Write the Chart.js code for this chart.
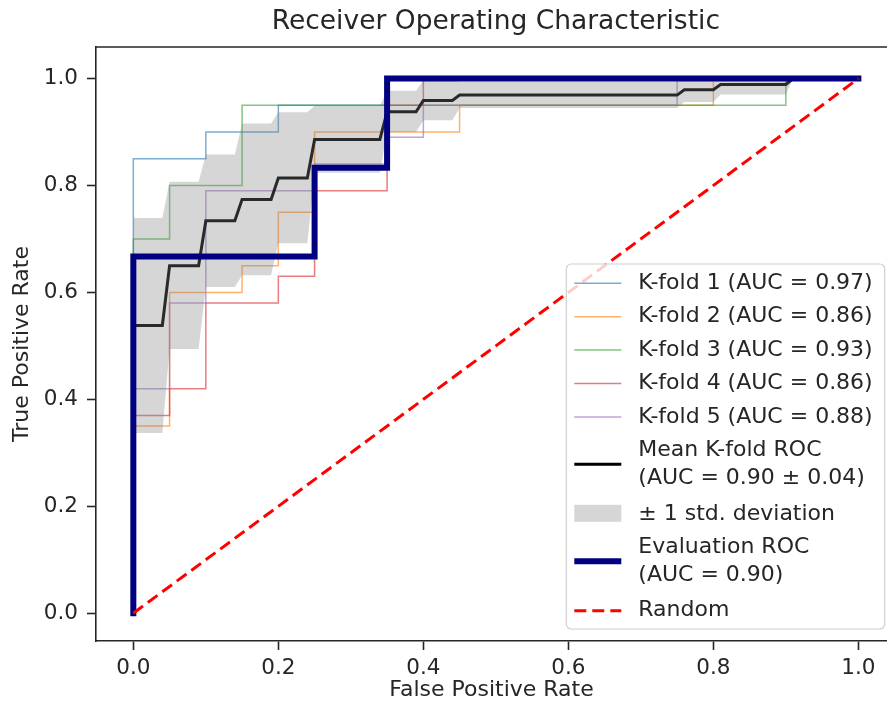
<!DOCTYPE html>
<html>
<head>
<meta charset="utf-8">
<script src="https://cdn.jsdelivr.net/npm/chart.js@4.4.0/dist/chart.umd.min.js"></script>
<style>
  html, body { margin: 0; padding: 0; background: #fff; }
  canvas { display: block; }
</style>
</head>
<body>
<canvas id="rocChart" width="887" height="711"></canvas>
<script>
// curvas ROC de cada fold (pontos do roc_curve)
const fold1Fpr = [0, 0, 0.10, 0.10, 0.20, 0.20, 0.35, 0.35, 1.0];
const fold1Tpr = [0, 0.85, 0.85, 0.90, 0.90, 0.95, 0.95, 1.0, 1.0];
const fold2Fpr = [0, 0, 0.05, 0.05, 0.15, 0.15, 0.20, 0.20, 0.25, 0.25, 0.45, 0.45, 0.80, 0.80, 1.0];
const fold2Tpr = [0, 0.35, 0.35, 0.60, 0.60, 0.65, 0.65, 0.75, 0.75, 0.90, 0.90, 0.95, 0.95, 1.0, 1.0];
const fold3Fpr = [0, 0, 0.05, 0.05, 0.15, 0.15, 0.90, 0.90, 1.0];
const fold3Tpr = [0, 0.70, 0.70, 0.80, 0.80, 0.95, 0.95, 1.0, 1.0];
const fold4Fpr = [0, 0, 0.05, 0.05, 0.10, 0.10, 0.20, 0.20, 0.25, 0.25, 0.35, 0.35, 0.40, 0.40, 1.0];
const fold4Tpr = [0, 0.37, 0.37, 0.42, 0.42, 0.58, 0.58, 0.63, 0.63, 0.79, 0.79, 0.95, 0.95, 1.0, 1.0];
const fold5Fpr = [0, 0, 0.05, 0.05, 0.10, 0.10, 0.25, 0.25, 0.35, 0.35, 0.40, 0.40, 0.75, 0.75, 1.0];
const fold5Tpr = [0, 0.42, 0.42, 0.58, 0.58, 0.79, 0.79, 0.84, 0.84, 0.89, 0.89, 0.95, 0.95, 1.0, 1.0];

// media dos folds e faixa de +-1 desvio padrao
const meanFpr = [0, 0.04, 0.05, 0.09, 0.10, 0.14, 0.15, 0.19, 0.20, 0.24, 0.25, 0.34, 0.35, 0.39, 0.40, 0.44, 0.45, 0.75, 0.76, 0.80, 0.81, 0.90, 0.91, 1.0];
const meanTpr = [0.538, 0.538, 0.65, 0.65, 0.734, 0.734, 0.774, 0.774, 0.814, 0.814, 0.886, 0.886, 0.938, 0.938, 0.959, 0.959, 0.969, 0.969, 0.979, 0.979, 0.989, 0.989, 1.0, 1.0];
const stdUpper = [0.739, 0.739, 0.807, 0.807, 0.858, 0.858, 0.916, 0.916, 0.937, 0.937, 0.949, 0.949, 0.977, 0.977, 0.997, 0.997, 0.994, 0.994, 1.0, 1.0, 1.0, 1.0, 1.0, 1.0];
const stdLower = [0.337, 0.337, 0.494, 0.494, 0.610, 0.610, 0.632, 0.632, 0.692, 0.692, 0.824, 0.824, 0.900, 0.900, 0.922, 0.922, 0.945, 0.945, 0.956, 0.956, 0.970, 0.970, 1.0, 1.0];

// curva de avaliacao e linha aleatoria
const evalFpr = [0, 0, 0.25, 0.25, 0.35, 0.35, 1.0];
const evalTpr = [0, 0.667, 0.667, 0.833, 0.833, 1.0, 1.0];
const randomFpr = [0, 1];
const randomTpr = [0, 1];

const tickValues = [0, 0.2, 0.4, 0.6, 0.8, 1.0];
const foldLabels = ['K-fold 1 (AUC = 0.97)', 'K-fold 2 (AUC = 0.86)', 'K-fold 3 (AUC = 0.93)', 'K-fold 4 (AUC = 0.86)', 'K-fold 5 (AUC = 0.88)'];
const meanLabel = ['Mean K-fold ROC', '(AUC = 0.90 \u00b1 0.04)'];
const stdLabel = ['\u00b1 1 std. deviation'];
const evalLabel = ['Evaluation ROC', '(AUC = 0.90)'];
const randomLabel = ['Random'];
const titleText = 'Receiver Operating Characteristic';
const xTitle = 'False Positive Rate';
const yTitle = 'True Positive Rate';

const fonte = 'DejaVu Sans';
const corTexto = '#262626';
const corEixo = '#262626';
const foldColors = ['rgba(31,119,180,0.6)', 'rgba(255,127,14,0.6)', 'rgba(44,160,44,0.6)', 'rgba(214,39,40,0.6)', 'rgba(148,103,189,0.6)'];
const corFaixa = 'rgba(128,128,128,0.32)';

function serie(fpr, tpr) {
  return fpr.map((x, i) => ({ x: x, y: tpr[i] }));
}

const foldsFpr = [fold1Fpr, fold2Fpr, fold3Fpr, fold4Fpr, fold5Fpr];
const foldsTpr = [fold1Tpr, fold2Tpr, fold3Tpr, fold4Tpr, fold5Tpr];

const datasets = [];
foldsFpr.forEach((fpr, i) => {
  datasets.push({
    label: foldLabels[i],
    data: serie(fpr, foldsTpr[i]),
    borderColor: foldColors[i],
    borderWidth: 1.5,
    order: 9 - i
  });
});
datasets.push({ label: meanLabel.join(' '), data: serie(meanFpr, meanTpr), borderColor: '#000', borderWidth: 3, order: 4 });
datasets.push({ label: stdLabel[0], data: serie(meanFpr, stdUpper), borderWidth: 0, borderColor: 'rgba(0,0,0,0)', backgroundColor: corFaixa, fill: '+1', order: 3 });
datasets.push({ label: 'lower', data: serie(meanFpr, stdLower), borderWidth: 0, borderColor: 'rgba(0,0,0,0)', fill: false, order: 2 });
datasets.push({ label: evalLabel.join(' '), data: serie(evalFpr, evalTpr), borderColor: '#000080', borderWidth: 6, borderCapStyle: 'square', order: 1 });
datasets.push({ label: randomLabel[0], data: serie(randomFpr, randomTpr), borderColor: '#ff0000', borderWidth: 3, borderDash: [12, 6], order: 0 });

datasets.forEach(d => { d.showLine = true; d.pointRadius = 0; d.tension = 0; });

// itens da legenda (desenhada a mao, como no matplotlib)
const itensLegenda = [];
foldLabels.forEach((t, i) => itensLegenda.push({ linhas: [t], tipo: 'linha', cor: foldColors[i], largura: 1.5 }));
itensLegenda.push({ linhas: meanLabel, tipo: 'linha', cor: '#000', largura: 3 });
itensLegenda.push({ linhas: stdLabel, tipo: 'faixa', cor: corFaixa });
itensLegenda.push({ linhas: evalLabel, tipo: 'linha', cor: '#000080', largura: 6 });
itensLegenda.push({ linhas: randomLabel, tipo: 'linha', cor: '#ff0000', largura: 3, tracejado: [12, 6] });

const molduraPlugin = {
  id: 'moldura',
  afterDraw(chart) {
    const { ctx, chartArea, scales } = chart;
    ctx.save();

    // borda de cima
    ctx.strokeStyle = corEixo;
    ctx.lineWidth = 1.6;
    ctx.beginPath();
    ctx.moveTo(chartArea.left, chartArea.top);
    ctx.lineTo(chartArea.right, chartArea.top);
    ctx.stroke();

    // titulo centrado nos eixos
    const eixoDir = scales.x.getPixelForValue(1.0515);
    ctx.fillStyle = corTexto;
    ctx.font = '26.5px "' + fonte + '"';
    ctx.textAlign = 'center';
    ctx.textBaseline = 'middle';
    ctx.fillText(titleText, (chartArea.left + eixoDir) / 2, 22);

    // legenda
    ctx.font = '22px "' + fonte + '"';
    let maxW = 0;
    itensLegenda.forEach(it => it.linhas.forEach(l => { maxW = Math.max(maxW, ctx.measureText(l).width); }));
    const boxW = 72 + maxW + 12;
    const boxH = 365;
    const boxR = eixoDir - 11;
    const boxB = chartArea.bottom - 12;
    const boxL = boxR - boxW;
    const boxT = boxB - boxH;

    ctx.beginPath();
    ctx.roundRect(boxL, boxT, boxW, boxH, 5);
    ctx.fillStyle = 'rgba(255,255,255,0.8)';
    ctx.fill();
    ctx.strokeStyle = '#d0d0d0';
    ctx.lineWidth = 1.2;
    ctx.stroke();

    let y = boxT + 19.3;
    const gapLinha = 28;
    itensLegenda.forEach(it => {
      const n = it.linhas.length;
      const yc = y + (n - 1) * gapLinha / 2;
      if (it.tipo === 'faixa') {
        ctx.fillStyle = it.cor;
        ctx.fillRect(boxL + 8, yc - 9, 47, 17);
      } else {
        ctx.strokeStyle = it.cor;
        ctx.lineWidth = it.largura;
        ctx.setLineDash(it.tracejado || []);
        ctx.beginPath();
        ctx.moveTo(boxL + 8, yc);
        ctx.lineTo(boxL + 55, yc);
        ctx.stroke();
        ctx.setLineDash([]);
      }
      ctx.fillStyle = corTexto;
      ctx.textAlign = 'left';
      ctx.textBaseline = 'middle';
      it.linhas.forEach((l, k) => ctx.fillText(l, boxL + 72, y + k * gapLinha));
      y += (n - 1) * gapLinha + (n > 1 ? 35.5 : 33.4);
    });

    ctx.restore();
  }
};

const fixarTicks = axis => { axis.ticks = tickValues.map(v => ({ value: v })); };

const config = {
  type: 'scatter',
  data: { datasets: datasets },
  options: {
    responsive: false,
    animation: false,
    devicePixelRatio: 1,
    layout: { padding: { top: 47, left: 0, right: 0, bottom: 0 } },
    plugins: {
      legend: { display: false },
      tooltip: { enabled: false },
      title: { display: false }
    },
    scales: {
      x: {
        type: 'linear',
        min: -0.0515,
        max: 1.0395,
        afterBuildTicks: fixarTicks,
        afterFit: scale => { scale.height = 70; },
        grid: { display: true, drawOnChartArea: false, drawTicks: true, tickLength: 9, tickWidth: 1.6, tickColor: corEixo },
        border: { display: true, color: corEixo, width: 1.6 },
        ticks: { callback: v => v.toFixed(1), font: { family: fonte, size: 21.5 }, color: corTexto, padding: 6, maxRotation: 0, autoSkip: false },
        title: { display: true, text: xTitle, font: { family: fonte, size: 22 }, color: corTexto, padding: { top: 0, bottom: 8 } }
      },
      y: {
        type: 'linear',
        min: -0.052,
        max: 1.059,
        afterBuildTicks: fixarTicks,
        afterFit: scale => { scale.width = 96; },
        grid: { display: true, drawOnChartArea: false, drawTicks: true, tickLength: 9, tickWidth: 1.6, tickColor: corEixo },
        border: { display: true, color: corEixo, width: 1.6 },
        ticks: { callback: v => v.toFixed(1), font: { family: fonte, size: 21.5 }, color: corTexto, padding: 9, autoSkip: false },
        title: { display: true, text: yTitle, font: { family: fonte, size: 22 }, color: corTexto, padding: { top: 9, bottom: 0 } }
      }
    }
  },
  plugins: [molduraPlugin]
};

const myChart = new Chart(document.getElementById('rocChart'), config);
</script>
</body>
</html>
